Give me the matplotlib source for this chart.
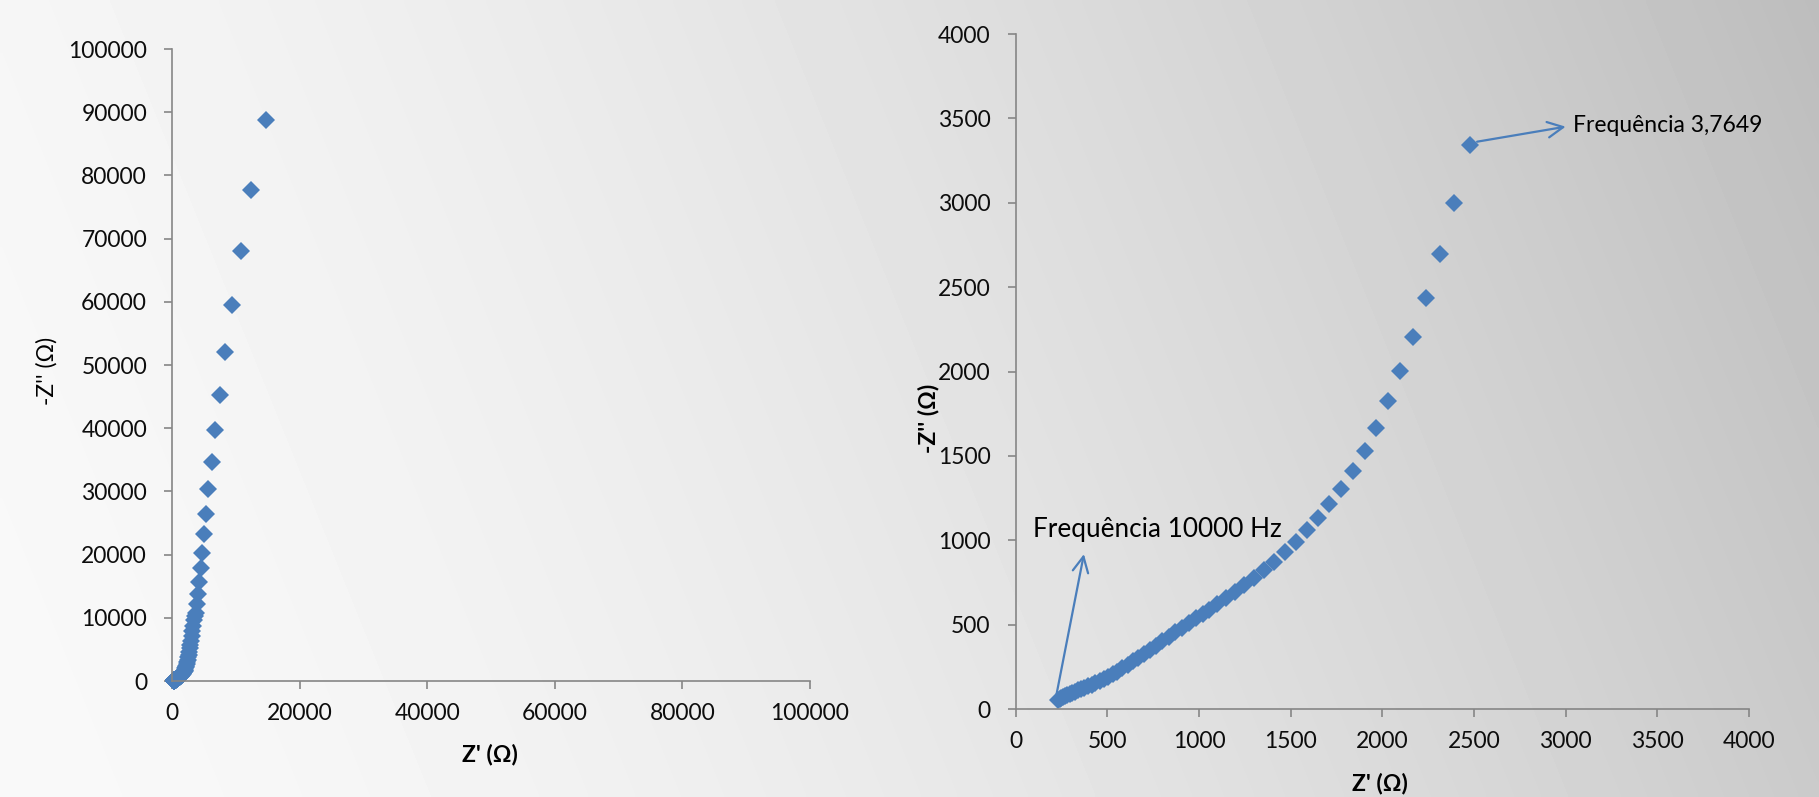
import numpy as np
import matplotlib
matplotlib.use("Agg")
import matplotlib.pyplot as plt

plt.rcParams['font.family'] = ['Lato', 'DejaVu Sans']

# high-frequency part (zoomed in the right panel), Z' and -Z'' in ohm
hf_zre = [232, 240, 249, 259, 270, 282, 295, 309, 324, 340, 357, 375, 394, 414,
          435, 457, 480, 504, 529, 555, 582, 610, 639, 669, 700, 732, 765, 799,
          834, 870, 907, 945, 984, 1020, 1054, 1100, 1147, 1196, 1247, 1300,
          1354, 1410, 1469, 1527, 1587, 1650, 1710, 1772, 1838, 1903, 1967,
          2030, 2098, 2167, 2239, 2314, 2390, 2476]
hf_zim = [55, 59, 64, 70, 76, 82, 89, 96, 103, 111, 119, 127, 136, 145,
          155, 166, 178, 191, 206, 222, 241, 261, 282, 304, 327, 351, 376, 401,
          427, 454, 481, 509, 538, 563, 588, 622, 656, 693, 733, 778,
          824, 871, 929, 991, 1061, 1132, 1213, 1305, 1410, 1531, 1665,
          1825, 2001, 2204, 2436, 2698, 2999, 3340]

# low-frequency tail (only in the left panel)
lf_zre = [2560, 2640, 2720, 2800, 2880, 2970, 3060, 3160, 3270, 3390, 3530,
          3710, 3870, 4020, 4280, 4490, 4750, 5010, 5330, 5690, 6210, 6740,
          7460, 8240, 9400, 10750, 12420, 14730]
lf_zim = [3730, 4160, 4640, 5170, 5760, 6410, 7120, 7900, 8760, 9700, 10250,
          10790, 12210, 13790, 15690, 17960, 20330, 23270, 26490, 30380, 34640,
          39650, 45290, 52130, 59560, 68090, 77720, 88780]

left_ticks = [0, 20000, 40000, 60000, 80000, 100000]
left_yticks = [0, 10000, 20000, 30000, 40000, 50000, 60000, 70000, 80000, 90000, 100000]
right_ticks = [0, 500, 1000, 1500, 2000, 2500, 3000, 3500, 4000]

blue = '#4A7EBB'
axis_gray = '#868686'

fig = plt.figure(figsize=(18.19, 7.97), dpi=100)

# gray background gradient
bg = fig.add_axes([0, 0, 1, 1], zorder=-10)
xx, yy = np.meshgrid(np.linspace(0, 1, 400), np.linspace(1, 0, 200))
t = 0.85 * xx + 0.15 * yy
bg.imshow(0.975 - 0.235 * t ** 1.6, cmap='gray', vmin=0, vmax=1,
          aspect='auto', extent=[0, 1, 0, 1], interpolation='bilinear')
bg.axis('off')


def style_axes(ax):
    ax.set_facecolor('none')
    for s in ['top', 'right']:
        ax.spines[s].set_visible(False)
    for s in ['left', 'bottom']:
        ax.spines[s].set_color(axis_gray)
        ax.spines[s].set_linewidth(1.2)
    ax.tick_params(direction='out', length=6, width=1.2, color=axis_gray,
                   labelsize=16.5, labelcolor='#0d0d0d')
    ax.tick_params(axis='y', pad=12)
    ax.tick_params(axis='x', pad=10)


# left panel: full spectrum
ax1 = fig.add_axes([0.0946, 0.1455, 0.3507, 0.793])
ax1.plot(hf_zre + lf_zre, hf_zim + lf_zim, 'D', color=blue, ms=9,
         mew=0, clip_on=False)
ax1.set_xlim(0, 100000)
ax1.set_ylim(0, 100000)
ax1.set_xticks(left_ticks)
ax1.set_yticks(left_yticks)
style_axes(ax1)
ax1.set_xlabel("Z' (Ω)", fontsize=16.5, fontweight='bold')
ax1.xaxis.set_label_coords(0.498, -0.1155)
ax1.xaxis.label.set_verticalalignment('center')
ax1.set_ylabel("-Z'' (Ω)", fontsize=16.5)
ax1.yaxis.set_label_coords(-0.196, 0.49)
ax1.yaxis.label.set_verticalalignment('center')

# right panel: high-frequency zoom
ax2 = fig.add_axes([0.5584, 0.1104, 0.4031, 0.8469])
ax2.plot(hf_zre, hf_zim, 'D', color=blue, ms=9, mew=0, clip_on=False)
ax2.set_xlim(0, 4000)
ax2.set_ylim(0, 4000)
ax2.set_xticks(right_ticks)
ax2.set_yticks(right_ticks)
style_axes(ax2)
ax2.set_xlabel("Z' (Ω)", fontsize=16.5, fontweight='bold')
ax2.xaxis.set_label_coords(0.497, -0.111)
ax2.xaxis.label.set_verticalalignment('center')
ax2.set_ylabel("-Z'' (Ω)", fontsize=16.5, fontweight='bold')
ax2.yaxis.set_label_coords(-0.1196, 0.43)
ax2.yaxis.label.set_verticalalignment('center')

arrow = dict(arrowstyle='->', color=blue, lw=1.6, mutation_scale=28,
             shrinkA=0, shrinkB=0)
ax2.annotate('', xy=(3000, 3451), xytext=(2517, 3362), arrowprops=arrow)
ax2.text(3039, 3455, 'Frequência 3,7649', fontsize=16.5, va='center', ha='left')
ax2.annotate('', xy=(372, 918), xytext=(220, 73), arrowprops=arrow)
ax2.text(93, 1061, 'Frequência 10000 Hz', fontsize=18.8, va='center', ha='left')

fig.savefig('out.png', dpi=100)
